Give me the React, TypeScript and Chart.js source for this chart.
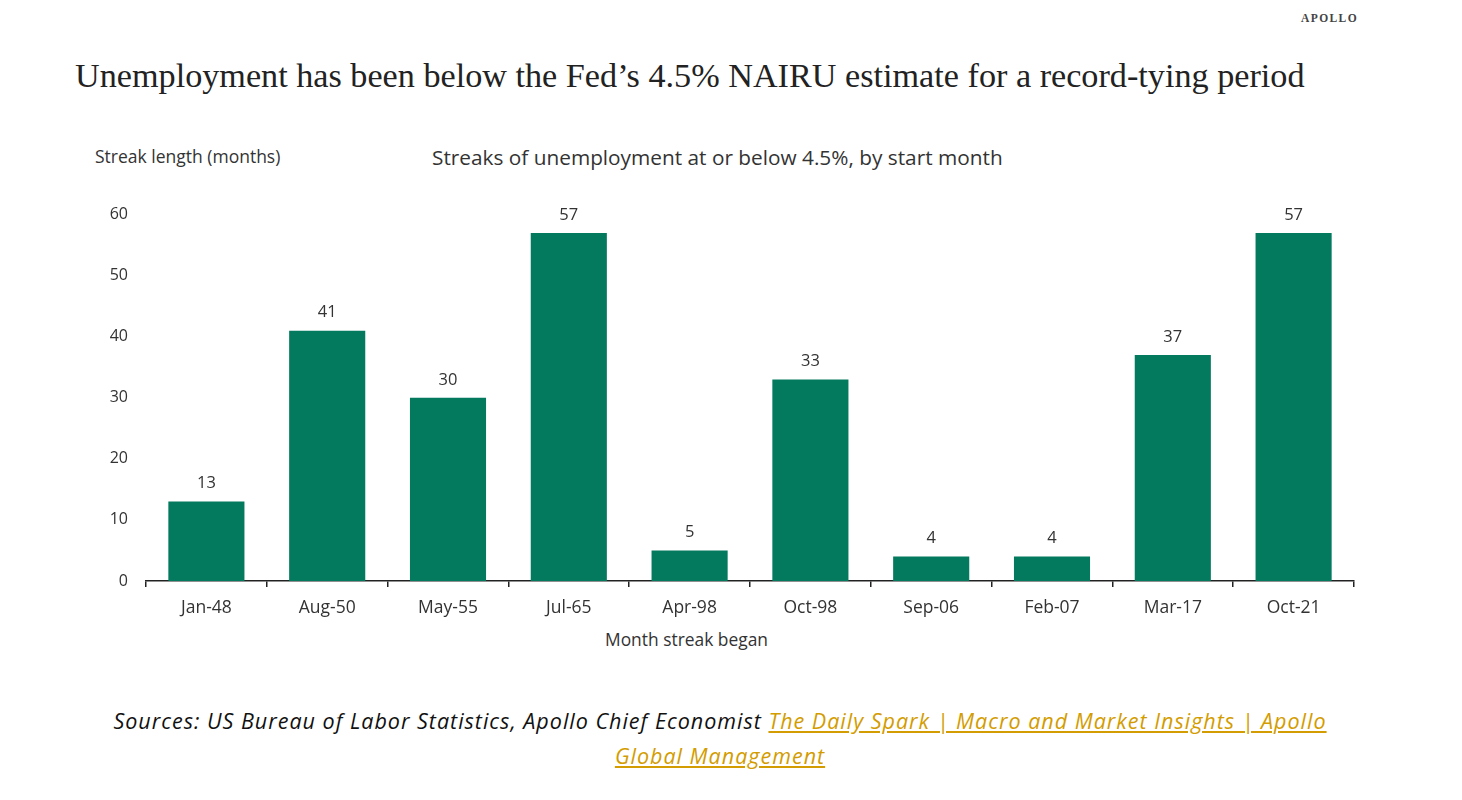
import React, { useEffect, useRef } from "react";
import { Chart, registerables } from "chart.js";

Chart.register(...registerables);

// Month each streak began
const startMonths = ["Jan-48", "Aug-50", "May-55", "Jul-65", "Apr-98", "Oct-98", "Sep-06", "Feb-07", "Mar-17", "Oct-21"];
// Streak length in months
const streakLengths = [13, 41, 30, 57, 5, 33, 4, 4, 37, 57];
// Y-axis range and step
const yTicks = [0, 10, 20, 30, 40, 50, 60];

const BAR_COLOR = "#03795d";
const TEXT_COLOR = "#333333";
const SANS = "'Open Sans', 'Noto Sans', sans-serif";

// Draws each bar's value above it
const valueLabels = {
  id: "valueLabels",
  afterDatasetsDraw(chart: any) {
    const ctx = chart.ctx;
    const meta = chart.getDatasetMeta(0);
    const data = chart.data.datasets[0].data as number[];
    ctx.save();
    ctx.font = `16.5px ${SANS}`;
    ctx.fillStyle = TEXT_COLOR;
    ctx.textAlign = "center";
    ctx.textBaseline = "middle";
    meta.data.forEach((bar: any, i: number) => {
      ctx.fillText(String(data[i]), bar.x, bar.y - 18);
    });
    ctx.restore();
  },
};

function StreakChart() {
  const canvasRef = useRef<HTMLCanvasElement | null>(null);

  useEffect(() => {
    if (!canvasRef.current) return;
    const chart = new Chart(canvasRef.current, {
      type: "bar",
      data: {
        labels: startMonths,
        datasets: [
          {
            data: streakLengths,
            backgroundColor: BAR_COLOR,
            borderWidth: 0,
            categoryPercentage: 1,
            barPercentage: 0.63,
          },
        ],
      },
      options: {
        animation: false,
        responsive: true,
        maintainAspectRatio: false,
        layout: { padding: { top: 21, right: 16, bottom: 0, left: 0 } },
        plugins: {
          legend: { display: false },
          tooltip: { enabled: false },
          title: { display: false },
        },
        scales: {
          x: {
            offset: true,
            border: { display: true, color: "#222222", width: 1.5 },
            grid: {
              display: true,
              offset: true,
              drawOnChartArea: false,
              drawTicks: true,
              tickLength: 6,
              color: "#222222",
              lineWidth: 1.5,
            },
            ticks: {
              color: TEXT_COLOR,
              font: { family: SANS, size: 17.5 },
              padding: 11,
              maxRotation: 0,
            },
            afterFit(scale: any) {
              scale.height = 44;
            },
          },
          y: {
            min: yTicks[0],
            max: yTicks[yTicks.length - 1],
            border: { display: false },
            grid: { display: false, drawTicks: false },
            ticks: {
              stepSize: yTicks[1] - yTicks[0],
              color: TEXT_COLOR,
              font: { family: SANS, size: 16 },
              padding: 18,
            },
            afterFit(scale: any) {
              scale.width = 66;
            },
          },
        },
      },
      plugins: [valueLabels],
    });
    return () => chart.destroy();
  }, []);

  return (
    <div style={{ position: "absolute", left: 80, top: 187, width: 1290, height: 438 }}>
      <canvas ref={canvasRef} />
    </div>
  );
}

export default function App() {
  return (
    <div style={{ position: "relative", width: 1462, height: 800, margin: -8, background: "#ffffff", overflow: "hidden" }}>
      <div
        style={{
          position: "absolute",
          right: 104,
          top: 12,
          fontFamily: "'Liberation Serif', serif",
          fontSize: 11.5,
          letterSpacing: 1.4,
          color: "#444",
          fontWeight: 600,
        }}
      >
        APOLLO
      </div>
      <div
        style={{
          position: "absolute",
          left: 75,
          top: 56,
          fontFamily: "'Liberation Serif', 'DejaVu Serif', serif",
          fontSize: 34.2,
          color: "#222",
          whiteSpace: "nowrap",
          lineHeight: "40px",
        }}
      >
        Unemployment has been below the Fed’s 4.5% NAIRU estimate for a record-tying period
      </div>
      <div
        style={{
          position: "absolute",
          left: 95,
          top: 144,
          fontFamily: SANS,
          fontSize: 17.5,
          color: TEXT_COLOR,
          whiteSpace: "nowrap",
          lineHeight: "24px",
        }}
      >
        Streak length (months)
      </div>
      <div
        style={{
          position: "absolute",
          left: 432,
          top: 143,
          fontFamily: SANS,
          fontSize: 20.8,
          color: TEXT_COLOR,
          whiteSpace: "nowrap",
          lineHeight: "28px",
        }}
      >
        Streaks of unemployment at or below 4.5%, by start month
      </div>
      <StreakChart />
      <div
        style={{
          position: "absolute",
          left: 605,
          top: 627,
          fontFamily: SANS,
          fontSize: 17.4,
          color: TEXT_COLOR,
          whiteSpace: "nowrap",
          lineHeight: "24px",
        }}
      >
        Month streak began
      </div>
      <div
        style={{
          position: "absolute",
          left: 0,
          width: 1440,
          top: 703,
          textAlign: "center",
          fontFamily: SANS,
          fontStyle: "italic",
          fontSize: 21.5,
          letterSpacing: 1.0,
          lineHeight: "35px",
          color: "#111",
        }}
      >
        Sources: US Bureau of Labor Statistics, Apollo Chief Economist{" "}
        <a href="#" style={{ color: "#d39c00", textDecoration: "underline" }}>
          The Daily Spark | Macro and Market Insights | Apollo <br />
          Global Management
        </a>
      </div>
    </div>
  );
}
